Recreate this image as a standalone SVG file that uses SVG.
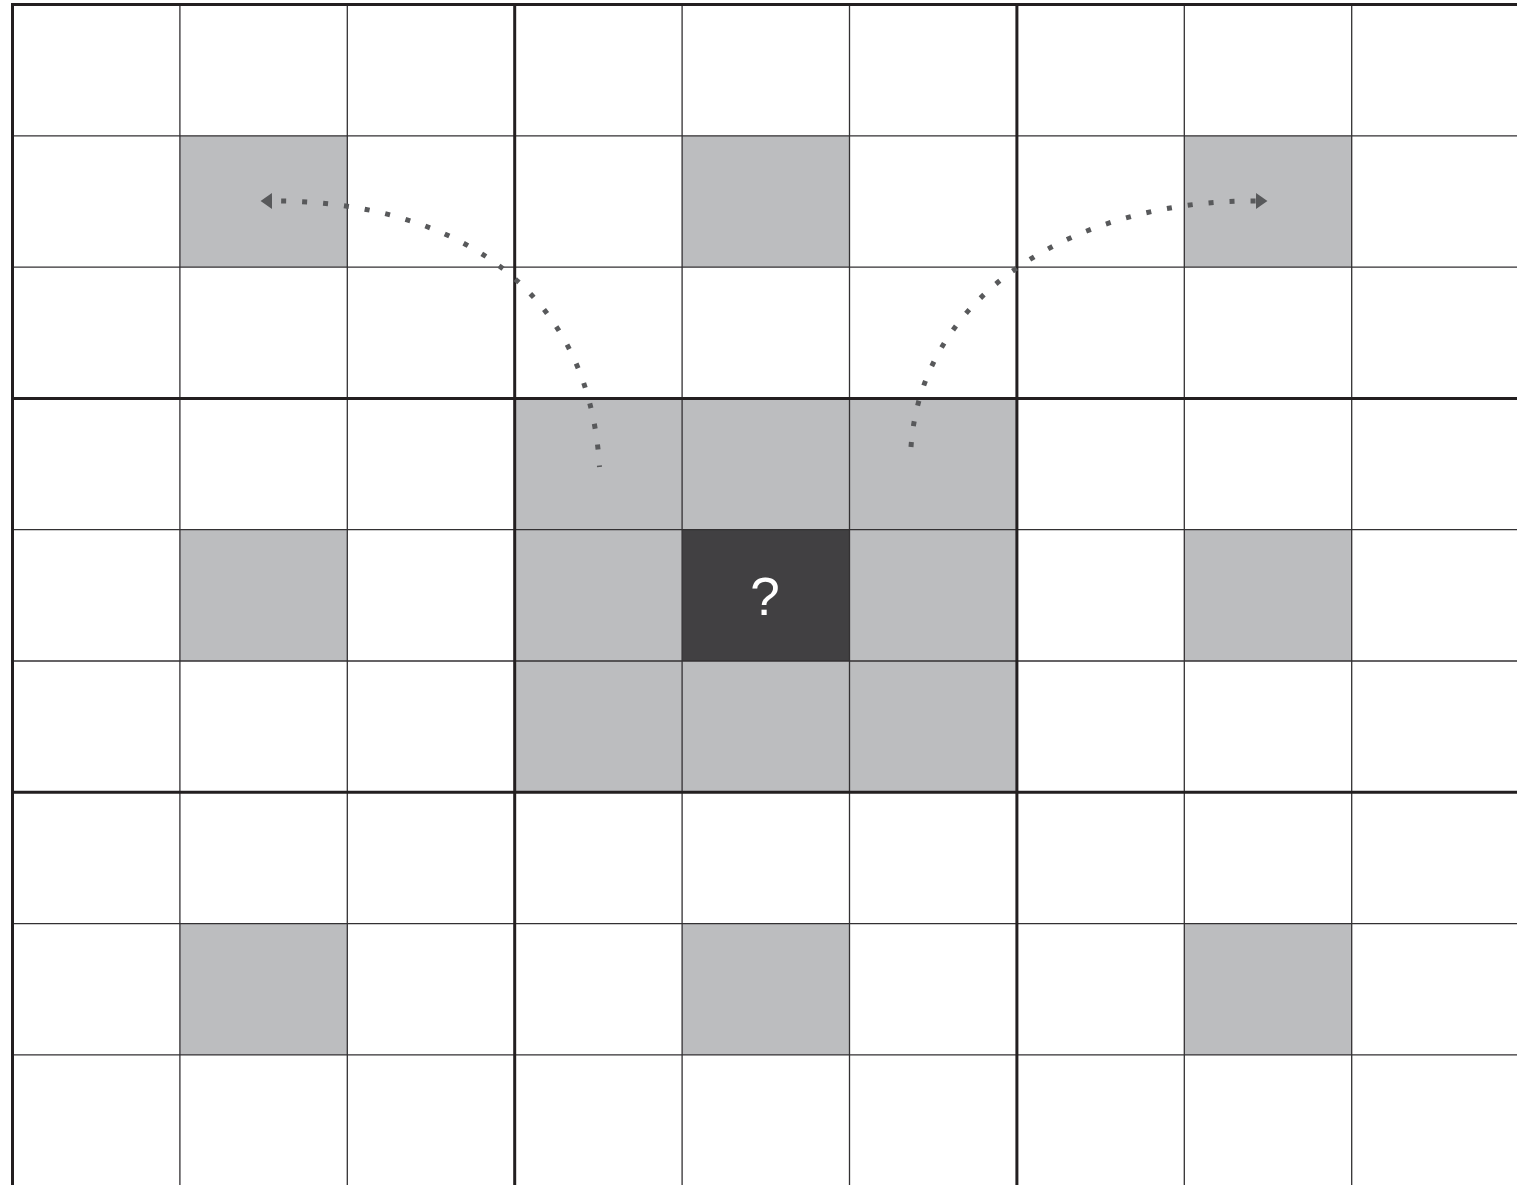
<svg xmlns="http://www.w3.org/2000/svg" width="1517" height="1185" viewBox="0 0 1517 1185">
  <style>
    .g { fill: #bcbdbf; }
    .d { fill: #414042; }
    .thin { stroke: #333133; stroke-width: 1.3; fill: none; }
    .thick { stroke: #231f20; stroke-width: 3; fill: none; }
    .dot { stroke: #58595b; stroke-width: 5; fill: none; stroke-dasharray: 5 16; stroke-linecap: butt; }
    .q { fill: #ffffff; font-family: "Liberation Sans", Arial, sans-serif; font-size: 53px; text-anchor: middle; }
  </style>
  <defs>
    <marker id="arr" markerUnits="userSpaceOnUse" markerWidth="12" markerHeight="16" refX="0" refY="7" orient="auto" viewBox="0 0 10 14">
      <path d="M0,0 L10,7 L0,14 Z" fill="#58595b"/>
    </marker>
  </defs>
  <rect width="1517" height="1185" fill="#ffffff"/>

  <g id="cells">
    <g id="cell-r1-c1"><rect class="g" x="179.9" y="135.8" width="167.4" height="131.3"/></g>
    <g id="cell-r1-c4"><rect class="g" x="682.1" y="135.8" width="167.4" height="131.3"/></g>
    <g id="cell-r1-c7"><rect class="g" x="1184.3" y="135.8" width="167.4" height="131.3"/></g>
    <g id="cell-r3-c3"><rect class="g" x="514.7" y="398.4" width="167.4" height="131.3"/></g>
    <g id="cell-r3-c4"><rect class="g" x="682.1" y="398.4" width="167.4" height="131.3"/></g>
    <g id="cell-r3-c5"><rect class="g" x="849.5" y="398.4" width="167.4" height="131.3"/></g>
    <g id="cell-r4-c1"><rect class="g" x="179.9" y="529.7" width="167.4" height="131.3"/></g>
    <g id="cell-r4-c3"><rect class="g" x="514.7" y="529.7" width="167.4" height="131.3"/></g>
    <g id="cell-r4-c4"><rect class="d" x="682.1" y="529.7" width="167.4" height="131.3"/><text class="q" x="765" y="615">?</text></g>
    <g id="cell-r4-c5"><rect class="g" x="849.5" y="529.7" width="167.4" height="131.3"/></g>
    <g id="cell-r4-c7"><rect class="g" x="1184.3" y="529.7" width="167.4" height="131.3"/></g>
    <g id="cell-r5-c3"><rect class="g" x="514.7" y="661" width="167.4" height="131.3"/></g>
    <g id="cell-r5-c4"><rect class="g" x="682.1" y="661" width="167.4" height="131.3"/></g>
    <g id="cell-r5-c5"><rect class="g" x="849.5" y="661" width="167.4" height="131.3"/></g>
    <g id="cell-r7-c1"><rect class="g" x="179.9" y="923.6" width="167.4" height="131.3"/></g>
    <g id="cell-r7-c4"><rect class="g" x="682.1" y="923.6" width="167.4" height="131.3"/></g>
    <g id="cell-r7-c7"><rect class="g" x="1184.3" y="923.6" width="167.4" height="131.3"/></g>
  </g>

  <g id="grid">
    <path class="thin" d="M179.9,4.5 V1185 M347.3,4.5 V1185 M682.1,4.5 V1185 M849.5,4.5 V1185 M1184.3,4.5 V1185 M1351.7,4.5 V1185"/>
    <path class="thin" d="M12.5,135.8 H1517 M12.5,267.1 H1517 M12.5,529.7 H1517 M12.5,661 H1517 M12.5,923.6 H1517 M12.5,1054.9 H1517"/>
    <path class="thick" d="M12.5,4.5 H1517 M12.5,398.4 H1517 M12.5,792.3 H1517"/>
    <path class="thick" d="M12.5,3 V1185 M514.7,3 V1185 M1016.9,3 V1185"/>
  </g>

  <g id="connectors">
    <path class="dot" style="stroke-dashoffset:3.5" d="M599.5,467 C588,270 430,200 272,201" marker-end="url(#arr)"/>
    <path class="dot" d="M911,447 C922,290 1080,200 1256,201" marker-end="url(#arr)"/>
  </g>
</svg>
